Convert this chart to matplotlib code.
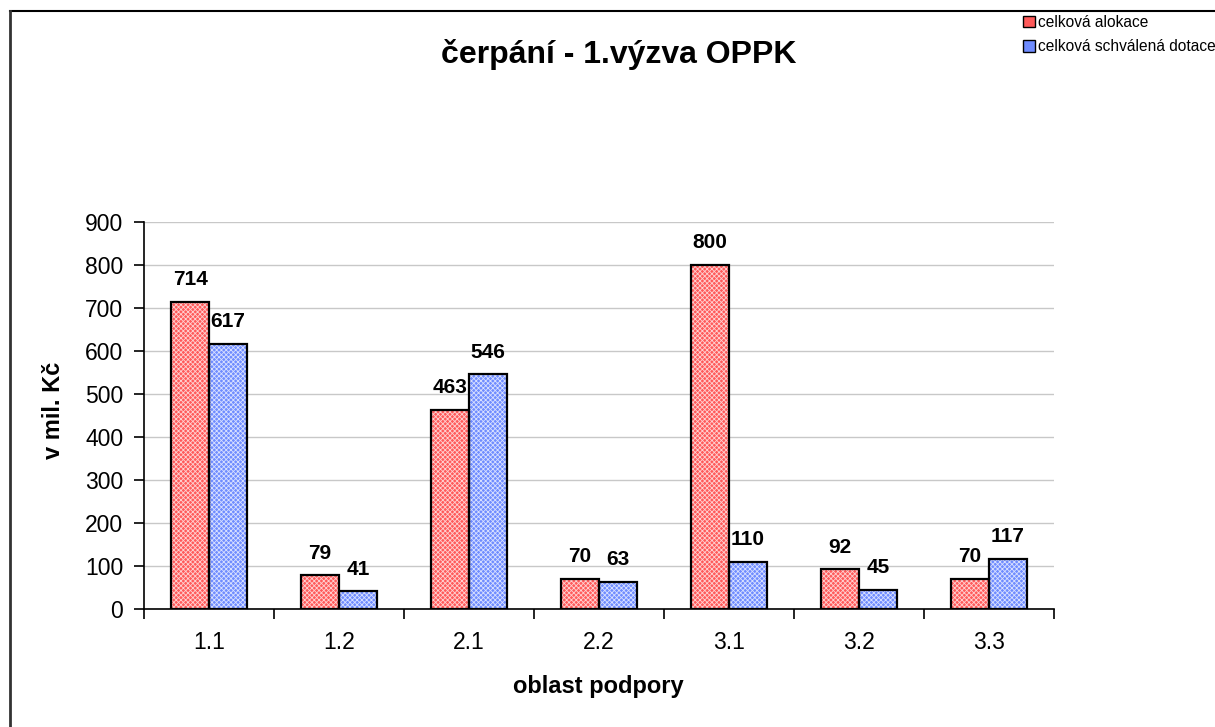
import numpy as np
import matplotlib.pyplot as plt
from matplotlib.patches import Patch
from matplotlib.lines import Line2D

plt.rcParams['font.family'] = ['Liberation Sans', 'DejaVu Sans']
plt.rcParams['hatch.linewidth'] = 0.6

# data
categories = ['1.1', '1.2', '2.1', '2.2', '3.1', '3.2', '3.3']
alokace = [714, 79, 463, 70, 800, 92, 70]
dotace = [617, 41, 546, 63, 110, 45, 117]
series_names = ['celková alokace', 'celková schválená dotace']

W, H = 1215, 727
fig = plt.figure(figsize=(W / 100, H / 100), dpi=100)
ax = fig.add_axes([144 / W, (H - 609) / H, 910 / W, 387 / H])

x = np.arange(len(categories))
bw = 0.29

red_face, red_hatch = '#FF5A5A', '#FFD0D0'
blue_face, blue_hatch = '#6F8CFF', '#D8E0FF'

# bars: textured fill, then a black outline on top
ax.bar(x - bw / 2, alokace, bw, color=red_face, hatch='xxxxxxx',
       edgecolor=red_hatch, linewidth=0, zorder=2)
ax.bar(x + bw / 2, dotace, bw, color=blue_face, hatch='xxxxxxx',
       edgecolor=blue_hatch, linewidth=0, zorder=2)
ax.bar(x - bw / 2, alokace, bw, fill=False, edgecolor='black', linewidth=1.6, zorder=3)
ax.bar(x + bw / 2, dotace, bw, fill=False, edgecolor='black', linewidth=1.6, zorder=3)

for xi, v in zip(x - bw / 2, alokace):
    ax.annotate(str(v), (xi, v), xytext=(0, 9), textcoords='offset points',
                ha='center', va='bottom', fontsize=15, fontweight='bold')
for xi, v in zip(x + bw / 2, dotace):
    ax.annotate(str(v), (xi, v), xytext=(0, 9), textcoords='offset points',
                ha='center', va='bottom', fontsize=15, fontweight='bold')

ax.set_xlim(-0.5, len(categories) - 0.5)
ax.set_ylim(0, 900)
ax.set_yticks(np.arange(0, 901, 100))
ax.yaxis.grid(True, color='#C8C8C8', linewidth=1, zorder=0)
ax.set_axisbelow(True)

ax.set_xticks(x)
ax.set_xticklabels(categories)
ax.set_xticks(np.arange(-0.5, len(categories)), minor=True)
ax.tick_params(axis='x', which='major', length=0, pad=16, labelsize=16.5)
ax.tick_params(axis='x', which='minor', length=7, width=1.2, direction='out')
ax.tick_params(axis='y', length=7, width=1.2, pad=8, labelsize=16.5)

for s in ['top', 'right']:
    ax.spines[s].set_visible(False)
for s in ['left', 'bottom']:
    ax.spines[s].set_linewidth(1.2)

fig.text(619 / W, 1 - 54 / H, 'čerpání - 1.výzva OPPK', ha='center', va='center',
         fontsize=23, fontweight='bold')
fig.text(598 / W, 1 - 686 / H, 'oblast podpory', ha='center', va='center',
         fontsize=17, fontweight='bold')
fig.text(54 / W, 1 - 410 / H, 'v mil. Kč', ha='center', va='center',
         rotation=90, fontsize=17, fontweight='bold')

handles = [Patch(facecolor=red_face, edgecolor='black', linewidth=1),
           Patch(facecolor=blue_face, edgecolor='black', linewidth=1)]
fig.legend(handles, series_names, loc='upper left', bbox_to_anchor=(1012 / W, 1 - 4 / H),
           frameon=False, fontsize=11.2, handlelength=0.8, handleheight=0.8,
           handletextpad=0.2, labelspacing=0.6, borderpad=0.2)

# outer frame of the chart object
fig.add_artist(Line2D([10 / W, 1], [1 - 11 / H, 1 - 11 / H], color='black', linewidth=1.5))
fig.add_artist(Line2D([10 / W, 10 / W], [0, 1 - 11 / H], color='#333333', linewidth=2))

fig.savefig('out.png', dpi=100)
